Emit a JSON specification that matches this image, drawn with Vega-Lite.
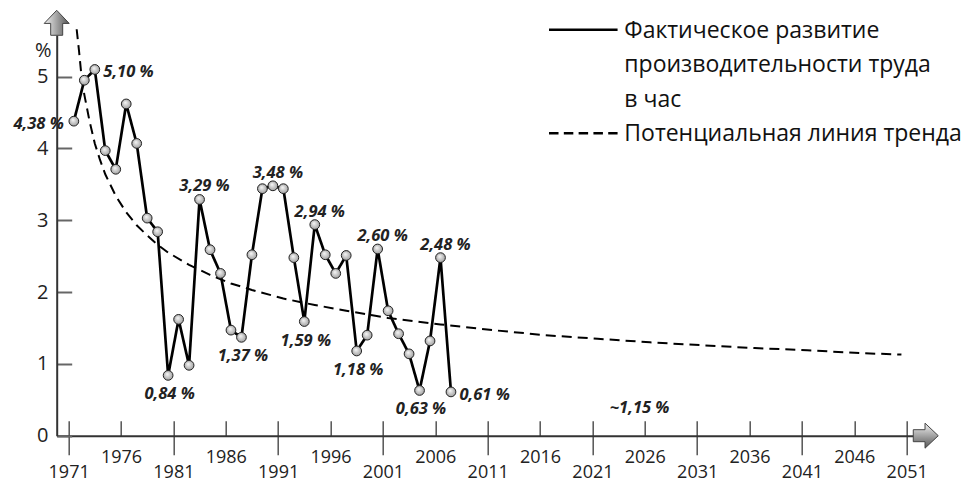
{
  "$schema": "https://vega.github.io/schema/vega-lite/v6.json",
  "width": 856.6,
  "height": 400.7,
  "autosize": "none",
  "padding": {"left": 56.7, "top": 35, "right": 57.7, "bottom": 46.3},
  "background": "white",
  "config": {
    "view": {"stroke": null},
    "font": "Open Sans",
    "axisY": {
      "tickSize": -15, "tickColor": "#666", "tickWidth": 2,
      "domainColor": "#333", "domainWidth": 2, "labelFontSize": 20, "labelColor": "#222",
      "labelPadding": 23.7, "labelOverlap": false, "labelFlush": false, "grid": false, "format": "d",
      "titleAngle": 0, "titleFontSize": 20, "titleFontWeight": "normal",
      "titleColor": "#222", "titleX": -14, "titleY": 15, "titleAlign": "center", "titleBaseline": "middle"
    },
    "legend": {
      "title": null, "orient": "none", "symbolType": "stroke", "symbolSize": 4700, "symbolStrokeWidth": 2.5,
      "labelFontSize": 23, "labelFont": "Open Sans", "labelColor": "#111", "labelOffset": 5,
      "labelBaseline": "alphabetic", "labelLimit": 400, "padding": 0
    }
  },
  "datasets": {
    "actual": [
      {"year": 1971, "value": 4.38}, {"year": 1972, "value": 4.95}, {"year": 1973, "value": 5.10},
      {"year": 1974, "value": 3.97}, {"year": 1975, "value": 3.71}, {"year": 1976, "value": 4.62},
      {"year": 1977, "value": 4.07}, {"year": 1978, "value": 3.03}, {"year": 1979, "value": 2.84},
      {"year": 1980, "value": 0.84}, {"year": 1981, "value": 1.62}, {"year": 1982, "value": 0.98},
      {"year": 1983, "value": 3.29}, {"year": 1984, "value": 2.59}, {"year": 1985, "value": 2.26},
      {"year": 1986, "value": 1.47}, {"year": 1987, "value": 1.37}, {"year": 1988, "value": 2.52},
      {"year": 1989, "value": 3.44}, {"year": 1990, "value": 3.48}, {"year": 1991, "value": 3.44},
      {"year": 1992, "value": 2.48}, {"year": 1993, "value": 1.59}, {"year": 1994, "value": 2.94},
      {"year": 1995, "value": 2.52}, {"year": 1996, "value": 2.26}, {"year": 1997, "value": 2.51},
      {"year": 1998, "value": 1.18}, {"year": 1999, "value": 1.40}, {"year": 2000, "value": 2.60},
      {"year": 2001, "value": 1.74}, {"year": 2002, "value": 1.42}, {"year": 2003, "value": 1.14},
      {"year": 2004, "value": 0.63}, {"year": 2005, "value": 1.32}, {"year": 2006, "value": 2.48},
      {"year": 2007, "value": 0.61}
    ],
    "trend": [
      {"year": 1971.27, "value": 5.66}, {"year": 1971.5, "value": 5.35}, {"year": 1971.75, "value": 4.98},
      {"year": 1972, "value": 4.75}, {"year": 1972.5, "value": 4.38}, {"year": 1973, "value": 4.07},
      {"year": 1973.5, "value": 3.84}, {"year": 1974, "value": 3.64}, {"year": 1975, "value": 3.34},
      {"year": 1976, "value": 3.11}, {"year": 1977, "value": 2.93}, {"year": 1978, "value": 2.79},
      {"year": 1979, "value": 2.66}, {"year": 1980, "value": 2.55}, {"year": 1982, "value": 2.38},
      {"year": 1984, "value": 2.24}, {"year": 1986, "value": 2.12}, {"year": 1988, "value": 2.03},
      {"year": 1991, "value": 1.91}, {"year": 1994, "value": 1.82}, {"year": 1997, "value": 1.74},
      {"year": 2001, "value": 1.64}, {"year": 2006, "value": 1.55}, {"year": 2011, "value": 1.47},
      {"year": 2016, "value": 1.40}, {"year": 2021, "value": 1.35}, {"year": 2026, "value": 1.30},
      {"year": 2031, "value": 1.26}, {"year": 2036, "value": 1.22}, {"year": 2041, "value": 1.19},
      {"year": 2046, "value": 1.15}, {"year": 2050, "value": 1.13}
    ]
  },
  "layer": [
    {
      "data": {"name": "trend"},
      "mark": {"type": "line", "strokeWidth": 2, "strokeDash": [10, 6], "xOffset": 5.2, "clip": false},
      "encoding": {
        "x": {
          "field": "year", "type": "quantitative",
          "scale": {"domain": [1969.86, 2051.63], "nice": false, "zero": false},
          "axis": {
            "orient": "bottom",
            "values": [1971, 1981, 1991, 2001, 2011, 2021, 2031, 2041, 2051],
            "tickSize": 19, "tickColor": "#555", "tickWidth": 1.5, "domain": false,
            "format": "d", "labelFontSize": 18, "labelColor": "#222", "labelPadding": 17.5,
            "labelBaseline": "middle", "labelOverlap": false, "labelFlush": false,
            "title": null, "grid": false
          }
        },
        "y": {
          "field": "value", "type": "quantitative",
          "scale": {"domain": [0, 5.58], "nice": false, "zero": true},
          "axis": {"orient": "left", "title": "%", "values": [0, 1, 2, 3, 4, 5]}
        },
        "color": {
          "datum": "Потенциальная линия тренда", "type": "nominal",
          "scale": {"domain": ["Потенциальная линия тренда"], "range": ["black"]},
          "legend": {"legendX": 490.6, "legendY": 62.3, "symbolDash": [9.5, 5.3],
                     "encode": {"labels": {"update": {"dy": {"value": 8}}}}}
        }
      }
    },
    {
      "data": {"name": "actual"},
      "mark": {"type": "line", "color": "black", "strokeWidth": 2.7, "xOffset": 5.2},
      "encoding": {
        "x": {
          "field": "year", "type": "quantitative",
          "axis": {
            "orient": "bottom",
            "values": [1971, 1976, 1981, 1986, 1991, 1996, 2001, 2006, 2011, 2016, 2021, 2026, 2031, 2036, 2041, 2046, 2051],
            "tickSize": -15, "tickColor": "#555", "tickWidth": 1.5,
            "domainColor": "#333", "domainWidth": 2, "format": "d",
            "labelExpr": "(datum.value - 1971) % 10 == 0 ? '' : datum.label",
            "labelFontSize": 18, "labelColor": "#222", "labelPadding": 36.3, "labelBaseline": "middle",
            "labelOverlap": false, "labelFlush": false, "title": null, "grid": false
          }
        },
        "y": {"field": "value", "type": "quantitative", "axis": {"orient": "left", "title": "%", "values": [0, 1, 2, 3, 4, 5]}},
        "strokeDash": {
          "datum": "Фактическое развитие производительности труда в час", "type": "nominal",
          "scale": {"domain": ["Фактическое развитие производительности труда в час"], "range": [[1, 0]]},
          "legend": {
            "legendX": 490.6, "legendY": -41.2, "symbolStrokeColor": "black",
            "labelExpr": "['Фактическое развитие', 'производительности труда', 'в час']",
            "encode": {"labels": {"update": {"lineHeight": {"value": 34.5}, "dy": {"value": 8}}}}
          }
        }
      }
    },
    {
      "data": {"name": "actual"},
      "mark": {
        "type": "circle", "size": 95, "opacity": 1, "xOffset": 5.2,
        "fill": {"gradient": "radial", "x1": 0.4, "y1": 0.35, "r1": 0, "x2": 0.5, "y2": 0.5, "r2": 0.55,
                 "stops": [{"offset": 0, "color": "#fafafa"}, {"offset": 1, "color": "#9a9a9a"}]},
        "stroke": "#222", "strokeWidth": 1
      },
      "encoding": {
        "x": {"field": "year", "type": "quantitative", "axis": null},
        "y": {"field": "value", "type": "quantitative", "axis": {"orient": "left", "title": "%", "values": [0, 1, 2, 3, 4, 5]}}
      }
    },
    {
      "data": {"name": "actual"},
      "transform": [
        {"filter": {"field": "year", "oneOf": [1983, 1990, 1994, 2000, 2006]}},
        {"calculate": "replace(format(datum.value, '.2f'), '.', ',') + ' %'", "as": "label"}
      ],
      "mark": {"type": "text", "font": "Open Sans", "fontSize": 16.5, "fontWeight": "bold", "fontStyle": "italic",
               "color": "#222", "align": "center", "baseline": "middle", "xOffset": 5.2, "dx": 5, "dy": -13},
      "encoding": {
        "x": {"field": "year", "type": "quantitative", "axis": null},
        "y": {"field": "value", "type": "quantitative", "axis": {"orient": "left", "title": "%", "values": [0, 1, 2, 3, 4, 5]}},
        "text": {"field": "label"}
      }
    },
    {
      "data": {"name": "actual"},
      "transform": [
        {"filter": {"field": "year", "oneOf": [1980, 1987, 1993, 1998, 2004]}},
        {"calculate": "replace(format(datum.value, '.2f'), '.', ',') + ' %'", "as": "label"}
      ],
      "mark": {"type": "text", "font": "Open Sans", "fontSize": 16.5, "fontWeight": "bold", "fontStyle": "italic",
               "color": "#222", "align": "center", "baseline": "middle", "xOffset": 5.2, "dx": 1.5, "dy": 19},
      "encoding": {
        "x": {"field": "year", "type": "quantitative", "axis": null},
        "y": {"field": "value", "type": "quantitative", "axis": {"orient": "left", "title": "%", "values": [0, 1, 2, 3, 4, 5]}},
        "text": {"field": "label"}
      }
    },
    {
      "data": {"name": "actual"},
      "transform": [
        {"filter": {"field": "year", "oneOf": [1971]}},
        {"calculate": "replace(format(datum.value, '.2f'), '.', ',') + ' %'", "as": "label"}
      ],
      "mark": {"type": "text", "font": "Open Sans", "fontSize": 16.5, "fontWeight": "bold", "fontStyle": "italic",
               "color": "#222", "align": "right", "baseline": "middle", "xOffset": 5.2, "dx": -10, "dy": 3},
      "encoding": {
        "x": {"field": "year", "type": "quantitative", "axis": null},
        "y": {"field": "value", "type": "quantitative", "axis": {"orient": "left", "title": "%", "values": [0, 1, 2, 3, 4, 5]}},
        "text": {"field": "label"}
      }
    },
    {
      "data": {"name": "actual"},
      "transform": [
        {"filter": {"field": "year", "oneOf": [1973, 2007]}},
        {"calculate": "replace(format(datum.value, '.2f'), '.', ',') + ' %'", "as": "label"}
      ],
      "mark": {"type": "text", "font": "Open Sans", "fontSize": 16.5, "fontWeight": "bold", "fontStyle": "italic",
               "color": "#222", "align": "left", "baseline": "middle", "xOffset": 5.2, "dx": 8.5, "dy": 3},
      "encoding": {
        "x": {"field": "year", "type": "quantitative", "axis": null},
        "y": {"field": "value", "type": "quantitative", "axis": {"orient": "left", "title": "%", "values": [0, 1, 2, 3, 4, 5]}},
        "text": {"field": "label"}
      }
    },
    {
      "data": {"values": [{}]},
      "mark": {"type": "text", "font": "Open Sans", "fontSize": 16.5, "fontWeight": "bold", "fontStyle": "italic",
               "color": "#222", "align": "center", "baseline": "middle"},
      "encoding": {
        "x": {"datum": 2025.5, "type": "quantitative", "axis": null},
        "y": {"datum": 0.39, "type": "quantitative", "axis": {"orient": "left", "title": "%", "values": [0, 1, 2, 3, 4, 5]}},
        "text": {"value": "~1,15 %"}
      }
    },
    {
      "data": {"values": [{}]},
      "mark": {
        "type": "point", "shape": "M0,-1 L1,0.05 L0.48,0.05 L0.48,1 L-0.48,1 L-0.48,0.05 L-1,0.05 Z",
        "size": 625, "filled": true, "opacity": 1, "stroke": "#444", "strokeWidth": 1,
        "fill": {"gradient": "linear", "x1": 0, "y1": 0, "x2": 1, "y2": 0,
                 "stops": [{"offset": 0, "color": "#f2f2f2"}, {"offset": 1, "color": "#555"}]}
      },
      "encoding": {
        "x": {"datum": 1969.86, "type": "quantitative", "axis": null},
        "y": {"datum": 5.75, "type": "quantitative", "axis": {"orient": "left", "title": "%", "values": [0, 1, 2, 3, 4, 5]}}
      }
    },
    {
      "data": {"values": [{}]},
      "mark": {
        "type": "point", "shape": "M1,0 L-0.06,-1 L-0.06,-0.48 L-1,-0.48 L-1,0.48 L-0.06,0.48 L-0.06,1 Z",
        "size": 625, "filled": true, "opacity": 1, "stroke": "#444", "strokeWidth": 1,
        "fill": {"gradient": "linear", "x1": 0, "y1": 0, "x2": 0, "y2": 1,
                 "stops": [{"offset": 0, "color": "#f2f2f2"}, {"offset": 1, "color": "#555"}]}
      },
      "encoding": {
        "x": {"datum": 2052.82, "type": "quantitative", "axis": null},
        "y": {"datum": 0, "type": "quantitative", "axis": {"orient": "left", "title": "%", "values": [0, 1, 2, 3, 4, 5]}}
      }
    }
  ],
  "resolve": {"axis": {"x": "independent"}}
}
